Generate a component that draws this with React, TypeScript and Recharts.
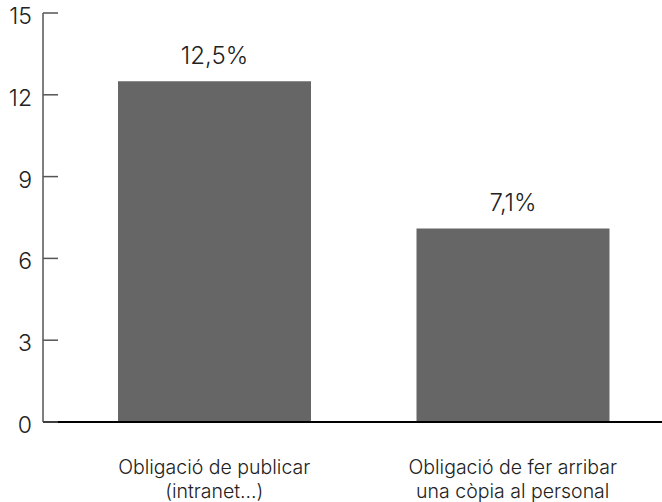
import { Bar, BarChart, LabelList, XAxis, YAxis } from 'recharts'

const categories = [
  'Obligació de publicar\n(intranet…)',
  'Obligació de fer arribar\nuna còpia al personal',
]
const percentages = [12.5, 7.1]
const yTicks = [0, 3, 6, 9, 12, 15]

const data = categories.map((name, i) => ({ name, value: percentages[i] }))

const FONT = 'Inter, "Liberation Sans", Arial, sans-serif'
const TEXT = '#222222'

function YTick({ x, y, payload }: any) {
  return (
    <g>
      <line x1={x} x2={x + 15} y1={y} y2={y} stroke='#555555' strokeWidth={1.5} />
      <text
        x={x - 11}
        y={y}
        dy={11}
        textAnchor='end'
        fill={TEXT}
        fontSize={23}
        fontWeight={300}
        fontFamily={FONT}
      >
        {payload.value}
      </text>
    </g>
  )
}

function XTick({ x, y, payload }: any) {
  const lines = String(payload.value).split('\n')
  return (
    <text
      x={x}
      y={y}
      textAnchor='middle'
      fill={TEXT}
      fontSize={19.5}
      fontWeight={300}
      fontFamily={FONT}
    >
      {lines.map((line, i) => (
        <tspan key={i} x={x} dy={i === 0 ? 52 : 24}>
          {line}
        </tspan>
      ))}
    </text>
  )
}

function ValueLabel({ x, y, width, value }: any) {
  return (
    <text
      x={x + width / 2}
      y={y - 17}
      textAnchor='middle'
      fill={TEXT}
      fontSize={24}
      fontWeight={300}
      fontFamily={FONT}
    >
      {String(value).replace('.', ',') + '%'}
    </text>
  )
}

export default function App() {
  return (
    <div style={{ position: 'absolute', left: 0, top: 0, background: '#fff' }}>
      <BarChart
        width={662}
        height={502}
        data={data}
        margin={{ top: 13, right: 0, left: 0, bottom: 0 }}
      >
        <YAxis
          domain={[0, 15]}
          ticks={yTicks}
          width={43}
          tickSize={0}
          tickMargin={0}
          tickLine={false}
          axisLine={{ stroke: '#555555', strokeWidth: 1.5 }}
          tick={<YTick />}
          interval={0}
        />
        <XAxis
          dataKey='name'
          height={80}
          tickSize={0}
          tickMargin={0}
          tickLine={false}
          padding={{ left: 22, right: 0 }}
          axisLine={{ stroke: '#000000', strokeWidth: 2 }}
          tick={<XTick />}
          interval={0}
        />
        <Bar dataKey='value' fill='#666666' barSize={193} isAnimationActive={false}>
          <LabelList dataKey='value' content={<ValueLabel />} />
        </Bar>
      </BarChart>
    </div>
  )
}
